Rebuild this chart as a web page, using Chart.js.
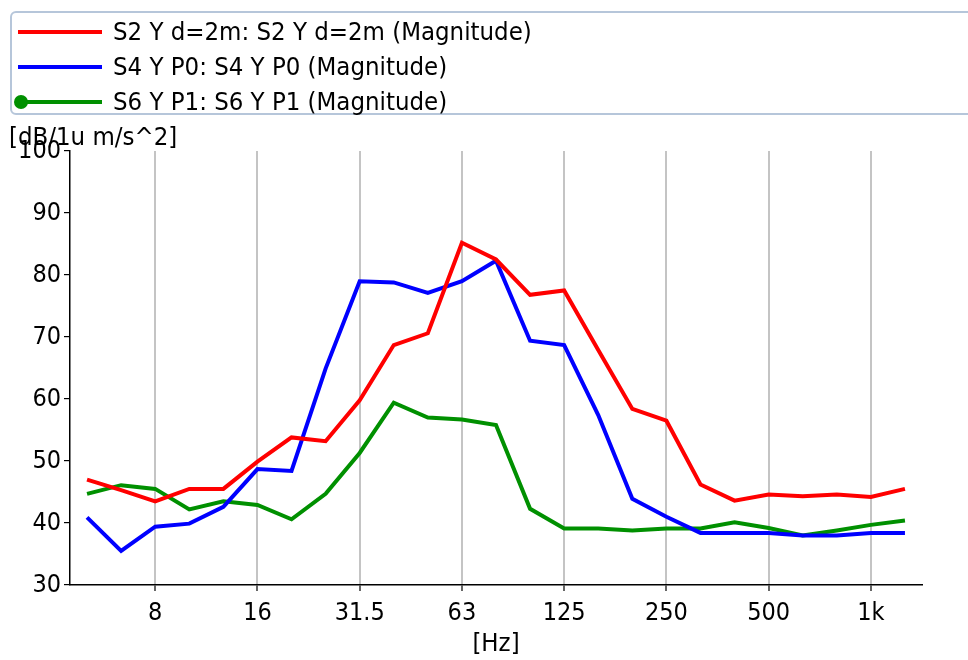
<!DOCTYPE html>
<html>
<head>
<meta charset="utf-8">
<script src="https://cdn.jsdelivr.net/npm/chart.js@4.4.0/dist/chart.umd.min.js"></script>
<style>
  html, body { margin: 0; padding: 0; background: #fff; }
  #wrap { position: relative; width: 968px; height: 660px; overflow: hidden; }
  #legend {
    position: absolute; left: 10px; top: 11px; width: 980px; height: 104px;
    border: 2px solid #b6c6da; border-radius: 6px; box-sizing: border-box;
  }
  .row { position: absolute; left: 0; height: 34px; width: 900px; }
  .row .ln { position: absolute; left: 6px; width: 84px; height: 4px; top: 15px; }
  .row .dot { position: absolute; left: 2px; top: 10px; width: 14px; height: 14px; border-radius: 7px; }
  .row .tx { position: absolute; left: 101px; top: 1px; font: 25.5px "DejaVu Sans Condensed", "DejaVu Sans", sans-serif; color: #000; }
  #ytitle { position: absolute; left: 9px; top: 121px; font: 25.5px "DejaVu Sans Condensed", "DejaVu Sans", sans-serif; color: #000; }
</style>
</head>
<body>
<div id="wrap">
  <canvas id="chart" width="968" height="660"></canvas>
  <div id="legend"></div>
  <div id="ytitle">[dB/1u m/s^2]</div>
</div>
<script>
// third-octave bands, 5 Hz .. 1.25 kHz
const bands = ['5', '6.3', '8', '10', '12.5', '16', '20', '25', '31.5', '40', '50', '63', '80',
  '100', '125', '160', '200', '250', '315', '400', '500', '630', '800', '1k', '1.25k'];
const tickLabels = ['8', '16', '31.5', '63', '125', '250', '500', '1k'];

const s2 = [47.0, 45.3, 43.5, 45.5, 45.5, 49.9, 53.8, 53.2, 59.8, 68.7, 70.6, 85.2, 82.5,
  76.8, 77.5, 67.9, 58.4, 56.5, 46.2, 43.6, 44.6, 44.3, 44.6, 44.2, 45.5];
const s4 = [40.9, 35.5, 39.4, 39.9, 42.6, 48.7, 48.4, 64.9, 79.0, 78.8, 77.1, 79.0, 82.3,
  69.4, 68.7, 57.4, 43.9, 41.0, 38.4, 38.4, 38.4, 38.0, 38.0, 38.4, 38.4];
const s6 = [44.7, 46.1, 45.5, 42.2, 43.5, 42.9, 40.6, 44.7, 51.3, 59.4, 57.0, 56.7, 55.8,
  42.3, 39.1, 39.1, 38.8, 39.1, 39.1, 40.1, 39.2, 38.0, 38.8, 39.7, 40.4];

const seriesNames = ['S2 Y d=2m: S2 Y d=2m (Magnitude)', 'S4 Y P0: S4 Y P0 (Magnitude)', 'S6 Y P1: S6 Y P1 (Magnitude)'];
const colors = ['#ff0000', '#0000ff', '#009000'];

const FONT = '"DejaVu Sans Condensed", "DejaVu Sans", sans-serif';

// legend
const legend = document.getElementById('legend');
seriesNames.forEach((name, i) => {
  const row = document.createElement('div');
  row.className = 'row';
  row.style.top = (2 + i * 35) + 'px';
  row.innerHTML = '<div class="ln" style="background:' + colors[i] + '"></div>' +
    (i === 2 ? '<div class="dot" style="background:' + colors[i] + '"></div>' : '') +
    '<div class="tx">' + name + '</div>';
  legend.appendChild(row);
});

const isLabeled = (i) => tickLabels.includes(bands[i]);

new Chart(document.getElementById('chart'), {
  type: 'line',
  data: {
    labels: bands,
    datasets: [s2, s4, s6].map((d, i) => ({
      label: seriesNames[i],
      data: d,
      borderColor: colors[i],
      backgroundColor: colors[i],
      borderWidth: 4,
      pointRadius: 0,
      tension: 0,
      fill: false
    }))
  },
  options: {
    responsive: false,
    animation: false,
    layout: { padding: { top: 151, right: 46, bottom: 0, left: 0 } },
    plugins: { legend: { display: false }, tooltip: { enabled: false } },
    scales: {
      x: {
        offset: true,
        afterFit: (s) => { s.height = 75; },
        border: { color: '#000', width: 1.5 },
        grid: {
          offset: false,
          color: (c) => isLabeled(c.index) ? '#c4c4c4' : 'rgba(0,0,0,0)',
          lineWidth: 2,
          tickColor: (c) => isLabeled(c.index) ? '#000' : 'rgba(0,0,0,0)',
          tickWidth: 1.2,
          tickLength: 6
        },
        ticks: {
          autoSkip: false,
          maxRotation: 0,
          color: '#000',
          font: { family: FONT, size: 25 },
          padding: 7,
          callback: (v, i) => isLabeled(i) ? bands[i] : ''
        },
        title: {
          display: true, text: '[Hz]', color: '#000',
          font: { family: FONT, size: 25.5 }, padding: { top: -11, bottom: 0 }
        }
      },
      y: {
        min: 30, max: 100,
        afterFit: (s) => { s.width = 70; },
        border: { color: '#000', width: 1.5 },
        grid: { drawOnChartArea: false, color: '#000', tickLength: 6, lineWidth: 1.2 },
        ticks: {
          stepSize: 10, color: '#000', padding: 3,
          font: { family: FONT, size: 25 }
        }
      }
    }
  }
});
</script>
</body>
</html>
